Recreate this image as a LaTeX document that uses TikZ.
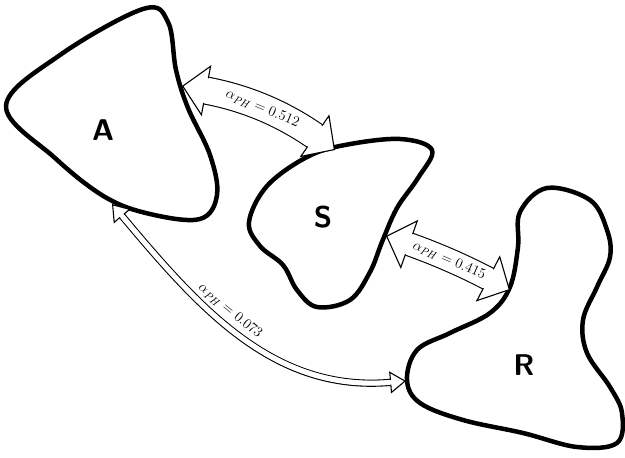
\documentclass[tikz,border=0pt]{standalone}
\usepackage{amsmath}
\usepackage{tikz}
\usetikzlibrary{arrows.meta,calc}
\tikzset{
  blob/.style ={draw=black,line width=4.5pt,line join=round},
  tag/.style  ={font=\sffamily\bfseries\fontsize{30}{30}\selectfont},
  link/.style ={double=white,double distance=#1,line width=1.1pt,draw=black},
  bigtip/.style={{Triangle[length=25pt,width=52pt,fill=white,line width=1.1pt]}-%
                 {Triangle[length=25pt,width=52pt,fill=white,line width=1.1pt]},
                 postaction={draw=white,double=none,line width=#1,-,
                             shorten <=22pt,shorten >=22pt}},
  smalltip/.style={{Triangle[length=16pt,width=22pt,fill=white,line width=1.1pt]}-%
                 {Triangle[length=16pt,width=22pt,fill=white,line width=1.1pt]},
                 postaction={draw=white,double=none,line width=#1,-,
                             shorten <=14pt,shorten >=14pt}},
  rate/.style ={font=\fontsize{15}{15}\selectfont,sloped,inner sep=1pt},
}
\begin{document}
\begin{tikzpicture}[x=1pt,y=-1pt]
\useasboundingbox (0,0) rectangle (625,458);

% ===== regions =============================================================
\draw[blob] plot[smooth cycle,tension=0.6] coordinates
  {(6,106) (60,55) (143,9) (168,22) (176,70) (188,108) (210,155) (217,195)
   (200,219) (150,214) (105,197) (55,158)};
\draw[blob] plot[smooth cycle,tension=0.6] coordinates
  {(249,222) (267,186) (307,157) (345,145) (400,139) (432,150) (418,178)
   (397,208) (382,242) (370,272) (350,300) (317,307) (297,290) (283,265)
   (260,246)};
\draw[blob] plot[smooth cycle,tension=0.6] coordinates
  {(547,188) (520,212) (518,247) (510,287) (490,313) (450,333) (417,350)
   (407,380) (420,403) (463,420) (523,433) (577,447) (617,443) (622,413)
   (610,387) (587,353) (583,320) (597,287) (610,257) (607,230) (590,200)};

\node[tag] (A) at (103,130) {A};
\node[tag] (S) at (323,217) {S};
\node[tag] (R) at (524,365) {R};

% contact points on the outlines
\coordinate (aS) at (182,86);
\coordinate (sA) at (335,150);
\coordinate (sR) at (386,236);
\coordinate (rS) at (510,290);
\coordinate (aR) at (112,204);
\coordinate (rA) at (406,381);

% ===== exchanges ===========================================================
\draw[link=26pt,bigtip=25pt] (aS) to[bend left=12]
  node[rate] {$\alpha_{\mathit{PH}}=0.512$} (sA);
\draw[link=22pt,bigtip=21pt] (sR) to[bend left=4]
  node[rate] {$\alpha_{\mathit{PH}}=0.415$} (rS);
\draw[link=5pt,smalltip=4.5pt] (aR) to[out=-50,in=185]
  node[rate,above=5pt,pos=0.43] {$\alpha_{\mathit{PH}}=0.073$} (rA);
\end{tikzpicture}
\end{document}
